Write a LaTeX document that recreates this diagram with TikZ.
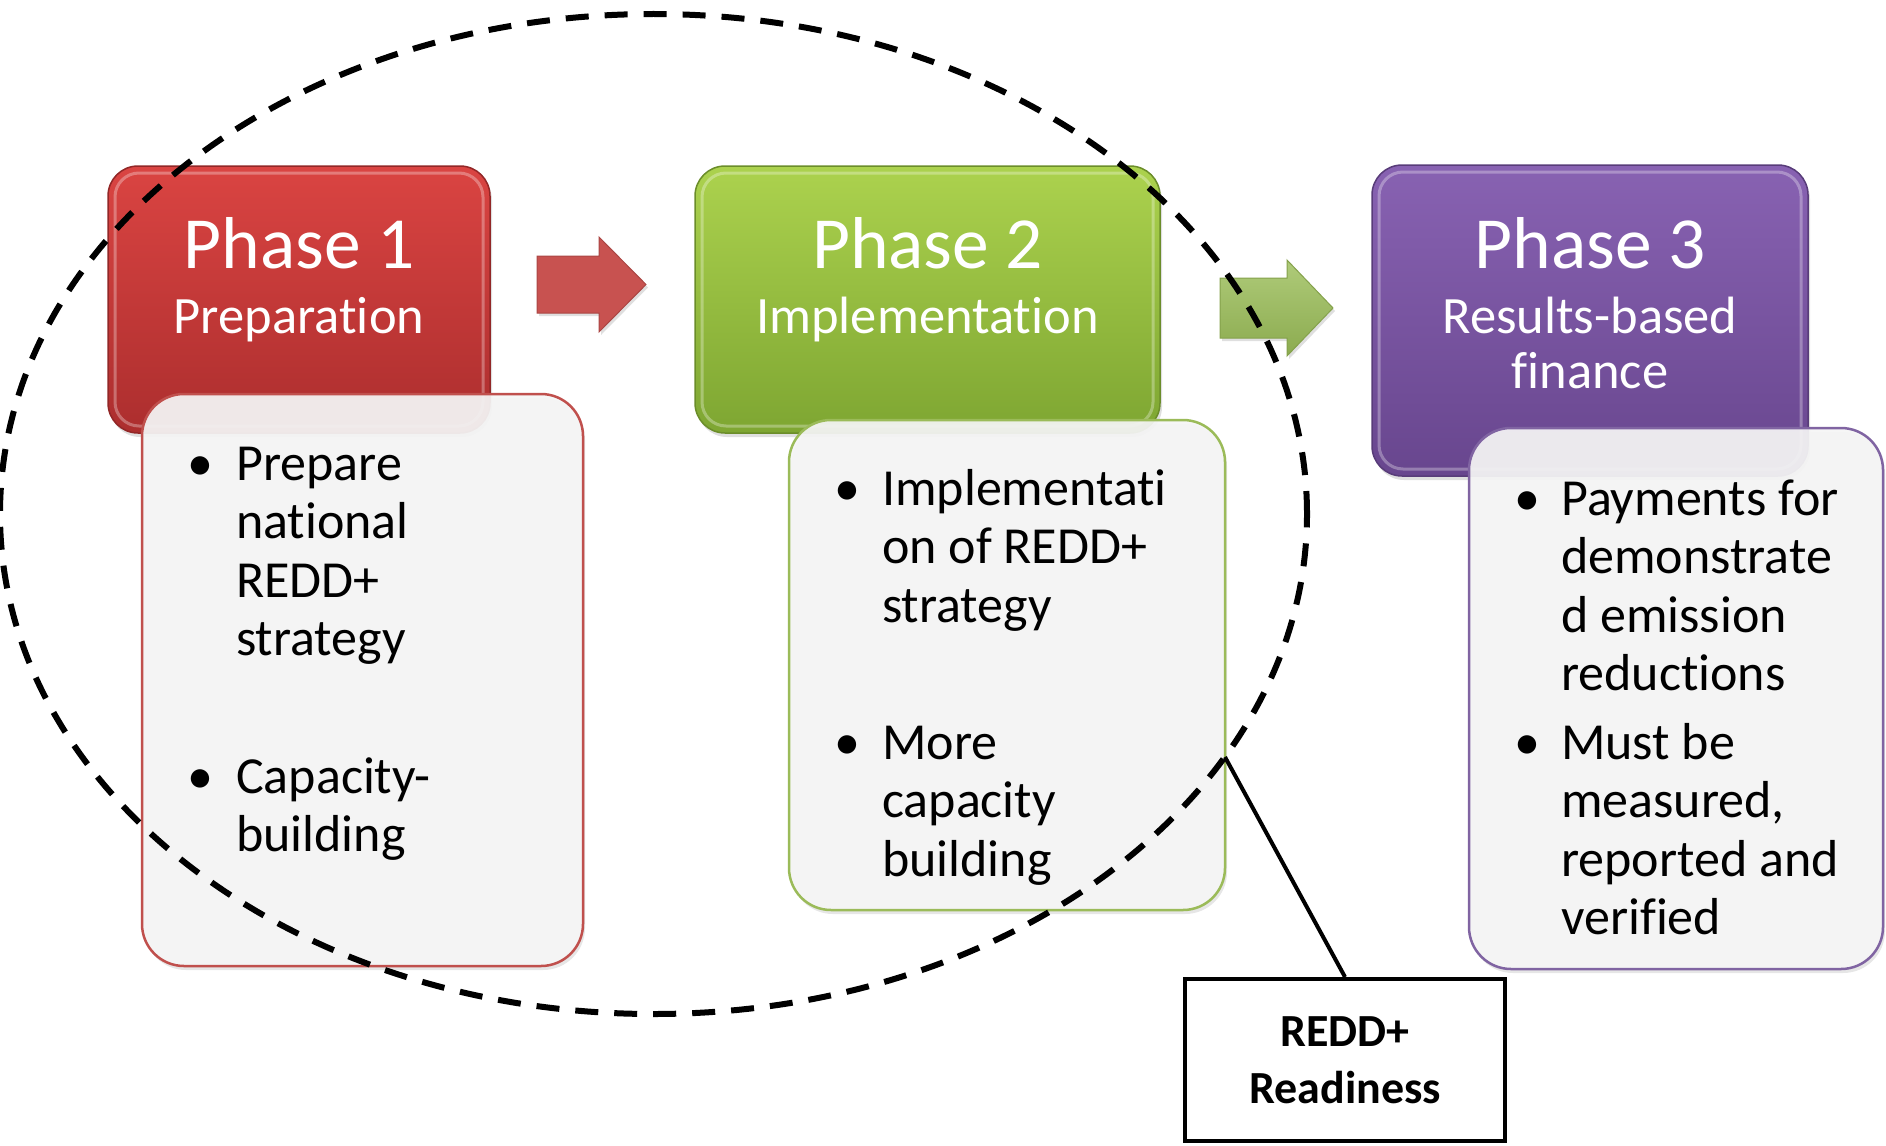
\documentclass[tikz,border=0pt]{standalone}
\usepackage{fontspec}
\setmainfont{Carlito}[Ligatures=NoCommon]
\usetikzlibrary{shapes.geometric,shadows}
\definecolor{redtop}{RGB}{218,68,66}
\definecolor{redbot}{RGB}{172,46,46}
\definecolor{redline}{RGB}{192,80,77}
\definecolor{greentop}{RGB}{172,210,78}
\definecolor{greenbot}{RGB}{126,166,50}
\definecolor{greenline}{RGB}{155,187,89}
\definecolor{purtop}{RGB}{136,98,178}
\definecolor{purbot}{RGB}{104,70,142}
\definecolor{purline}{RGB}{128,100,162}
\definecolor{boxfill}{RGB}{245,245,245}
\definecolor{arrowred}{RGB}{200,82,80}
\definecolor{arrowgreen}{RGB}{155,190,88}
\newcommand\firststrut{\rule{0pt}{45pt}}
\begin{document}
\begin{tikzpicture}[x=1pt,y=-1pt,
  phasebox/.style={rectangle, rounded corners=30pt, inner sep=0pt, outer sep=0pt, line width=1.5pt,
    drop shadow={opacity=0.25, shadow xshift=2pt, shadow yshift=-4pt}},
  contentbox/.style={rectangle, rounded corners=42pt, fill=boxfill, fill opacity=0.93, line width=2.5pt,
    inner sep=0pt, outer sep=0pt, drop shadow={opacity=0.2, shadow xshift=2pt, shadow yshift=-4pt}},
  gloss/.style={white, opacity=0.3, line width=3pt, rounded corners=24pt},
  phasetitle/.style={text=white, font=\fontsize{73.5}{80}\selectfont, anchor=base, inner sep=0pt},
  phasesub/.style={text=white, font=\fontsize{52.5}{55}\selectfont, anchor=base, inner sep=0pt},
  item/.style={font=\fontsize{52}{58.4}\selectfont, align=left, anchor=north west, inner sep=0pt},
  bulletmark/.style={font=\fontsize{52}{58.4}\selectfont, anchor=base, inner sep=0pt},
  blockarrow/.style={line width=1pt, drop shadow={opacity=0.25, shadow xshift=2pt, shadow yshift=-3pt}},
]
\useasboundingbox (0,0) rectangle (1886,1145);

% phase boxes
\node[phasebox, draw=redbot!85!black, top color=redtop, bottom color=redbot,
  minimum width=382pt, minimum height=267pt] (p1) at (299,299.5) {};
\draw[gloss] ([shift={(7,7)}]p1.north west) rectangle ([shift={(-7,-7)}]p1.south east);
\node[phasebox, draw=greenbot!85!black, top color=greentop, bottom color=greenbot,
  minimum width=465pt, minimum height=267pt] (p2) at (927.5,299.5) {};
\draw[gloss] ([shift={(7,7)}]p2.north west) rectangle ([shift={(-7,-7)}]p2.south east);
\node[phasebox, draw=purbot!85!black, top color=purtop, bottom color=purbot,
  minimum width=436pt, minimum height=311pt] (p3) at (1590,320.5) {};
\draw[gloss] ([shift={(7,7)}]p3.north west) rectangle ([shift={(-7,-7)}]p3.south east);

\node[phasetitle] (t1) at (299,268) {Phase 1};
\node[phasesub] (s1) at (299,333) {Preparation};
\node[phasetitle] (t2) at (927.5,268) {Phase 2};
\node[phasesub] (s2) at (927.5,333) {Implementation};
\node[phasetitle] (t3) at (1590,268) {Phase 3};
\node[phasesub] (s3a) at (1590,333) {Results-based};
\node[phasesub] (s3b) at (1590,388) {finance};

% content boxes
\node[contentbox, draw=redline, minimum width=441pt, minimum height=572pt] (c1) at (362.5,680) {};
\node[contentbox, draw=greenline, minimum width=436pt, minimum height=490pt] (c2) at (1007,665) {};
\node[contentbox, draw=purline, minimum width=414pt, minimum height=541pt] (c3) at (1676,698.5) {};

% bullets box 1
\node[bulletmark] (m1a) at (200,480) {•};
\node[item] (i1a) at (236,435) {\firststrut Prepare\\national\\REDD+\\strategy};
\node[bulletmark] (m1b) at (200,793) {•};
\node[item] (i1b) at (236,748) {\firststrut Capacity-\\building};
% bullets box 2
\node[bulletmark] (m2a) at (847,505) {•};
\node[item] (i2a) at (882,460) {\firststrut Implementati\\on of REDD+\\strategy};
\node[bulletmark] (m2b) at (847,759) {•};
\node[item] (i2b) at (882,714) {\firststrut More\\capacity\\building};
% bullets box 3
\node[bulletmark] (m3a) at (1527,515) {•};
\node[item] (i3a) at (1561,470) {\firststrut Payments for\\demonstrate\\d emission\\reductions};
\node[bulletmark] (m3b) at (1527,759) {•};
\node[item] (i3b) at (1561,714) {\firststrut Must be\\measured,\\reported and\\verified};

% block arrows
\path[blockarrow, fill=arrowred, draw=arrowred!85!black]
  (537,256) -- (599,256) -- (599,237) -- (646,284.5) -- (599,332) -- (599,313) -- (537,313) -- cycle;
\path[blockarrow, top color=arrowgreen!80!white, bottom color=arrowgreen!90!black, draw=arrowgreen!85!black]
  (1220,278) -- (1287,278) -- (1287,260) -- (1333,308) -- (1287,356) -- (1287,338) -- (1220,338) -- cycle;

% readiness ellipse
\node[ellipse, draw, dash pattern=on 23pt off 16pt, line width=6pt, inner sep=0pt,
  minimum width=1307pt, minimum height=1000pt] (readyscope) at (653.5,514) {};

% label box and connector
\coordinate (rdpt) at (1225,757);
\node[draw, line width=4pt, minimum width=320pt, minimum height=162pt, inner sep=0pt,
  font=\bfseries\fontsize{46}{57}\selectfont, align=center] (ready) at (1345,1060) {REDD+\\Readiness};
\draw[line width=4pt] (rdpt) -- (ready.north);
\end{tikzpicture}
\end{document}
